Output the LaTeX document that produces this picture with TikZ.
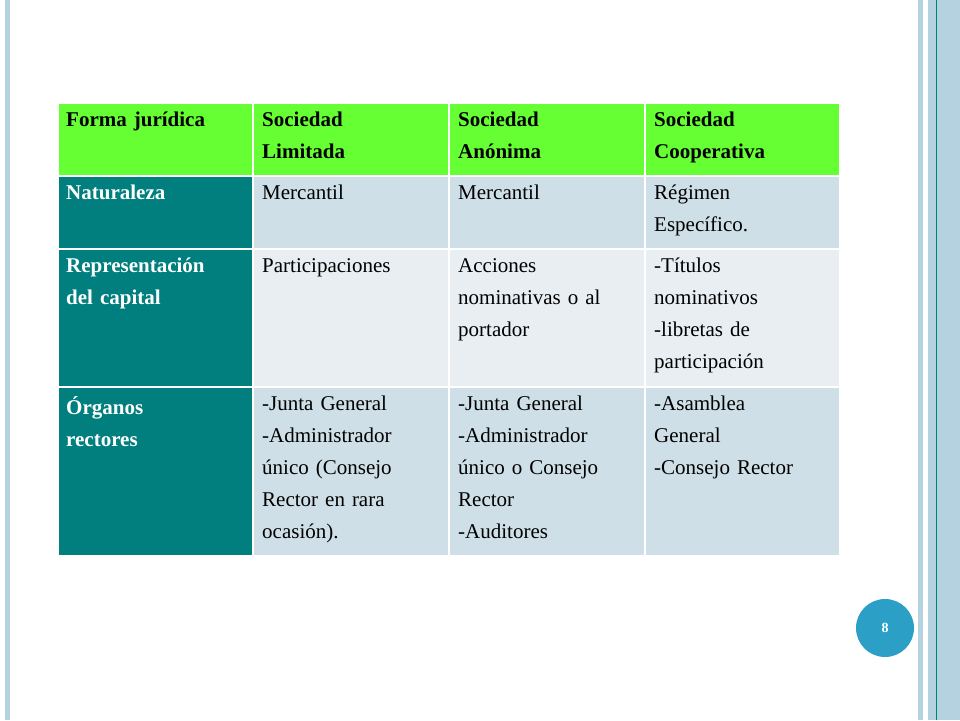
\documentclass[tikz,border=0pt]{standalone}
\usepackage{fontspec}
\setmainfont{Liberation Serif}
\definecolor{hdr}{HTML}{66FF33}
\definecolor{tl}{HTML}{017F7F}
\definecolor{ca}{HTML}{CFDFE7}
\definecolor{cb}{HTML}{E8EEF2}
\definecolor{strip}{HTML}{B4D2DF}
\definecolor{circ}{HTML}{2C9FC6}
\begin{document}
\begin{tikzpicture}[x=1pt,y=-1pt,
  txt/.style={anchor=north west,align=left,inner sep=0pt,font=\fontsize{21}{32}\selectfont,text width=186pt},
  bt/.style={txt,font=\fontsize{21}{32}\selectfont\bfseries},
  cellbox/.style={draw=white,line width=1.5pt}]
\useasboundingbox (0,0) rectangle (960,720);
\fill[white] (0,0) rectangle (960,720);
% borders
\fill[strip] (5,0) rectangle (10,720);
\fill[strip] (918,0) rectangle (923,720);
\fill[strip] (928,0) rectangle (960,720);
\draw[tl,line width=0.8pt] (936,0) -- (936,720);
% table
\def\xs{{58,253,449,645,840}}
\def\ys{{103,176,249,387,556}}
\foreach \r/\ya/\yb in {0/103/176,1/176/249,2/249/387,3/387/556}{
 \foreach \c/\xa/\xb in {0/58/253,1/253/449,2/449/645,3/645/840}{
  \ifnum\r=0 \def\fc{hdr}\else\ifnum\c=0 \def\fc{tl}\else\ifodd\r \def\fc{ca}\else\def\fc{cb}\fi\fi\fi
  \path[cellbox,fill=\fc] (\xa,\ya) rectangle (\xb,\yb);
 }}
% header
\node[bt] (h0) at (66,112) {Forma jurídica};
\node[bt] (h1) at (262,112) {Sociedad\\Limitada};
\node[bt] (h2) at (458,112) {Sociedad\\Anónima};
\node[bt] (h3) at (654,112) {Sociedad\\Cooperativa};
% row1
\node[bt,text=white] (a0) at (66,185) {Naturaleza};
\node[txt] (a1) at (262,185) {Mercantil};
\node[txt] (a2) at (458,185) {Mercantil};
\node[txt] (a3) at (654,185) {Régimen\\Específico.};
% row2
\node[bt,text=white] (b0) at (66,258) {Representación\\del capital};
\node[txt] (b1) at (262,258) {Participaciones};
\node[txt] (b2) at (458,258) {Acciones\\nominativas o al\\portador};
\node[txt] (b3) at (654,258) {-Títulos\\nominativos\\-libretas de\\participación};
% row3
\node[bt,text=white] (c0) at (66,396) {Órganos\\rectores};
\node[txt] (c1) at (262,396) {-Junta General\\-Administrador\\único (Consejo\\Rector en rara\\ocasión).};
\node[txt] (c2) at (458,396) {-Junta General\\-Administrador\\único o Consejo\\Rector\\-Auditores};
\node[txt] (c3) at (654,396) {-Asamblea\\General\\-Consejo Rector};
% page number
\node[circle,fill=circ,minimum size=58pt,inner sep=0pt,text=white,font=\fontsize{14}{16}\selectfont\bfseries] (pg) at (885,628) {8};
\end{tikzpicture}
\end{document}
